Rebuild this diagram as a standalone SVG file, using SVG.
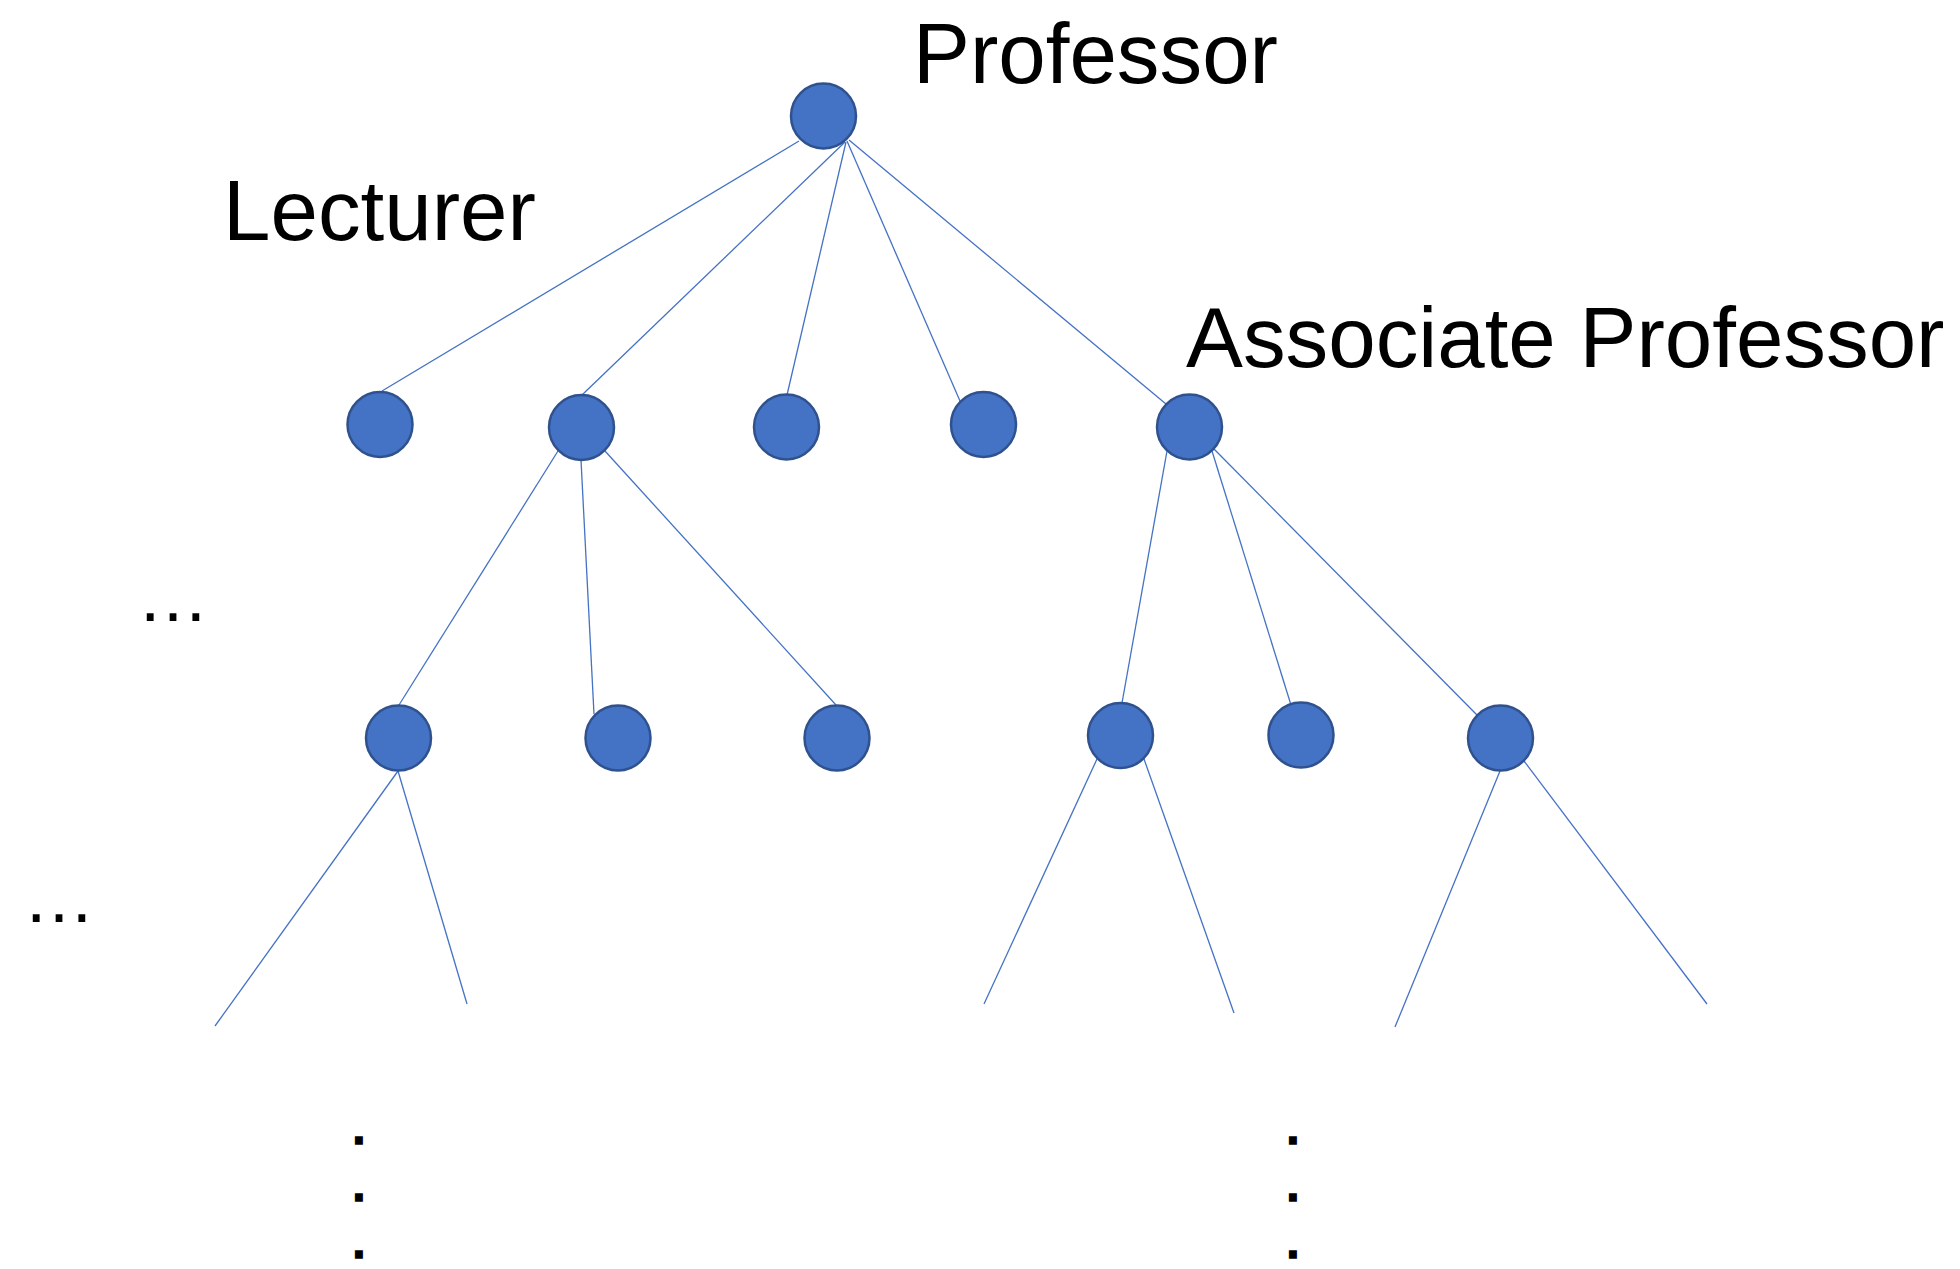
<svg xmlns="http://www.w3.org/2000/svg" width="1960" height="1269" viewBox="0 0 1960 1269">
<style>
.node{fill:#4472C4;stroke:#2F528F;stroke-width:2.5}
.edge{stroke:#4472C4;stroke-width:1.3;fill:none}
.lbl{font-family:"Liberation Sans",Arial,sans-serif;font-size:85.3px;fill:#000}
.dots{font-family:"Liberation Sans",Arial,sans-serif;fill:#000}
.vdot{font-family:"Liberation Sans",Arial,sans-serif;font-size:46px;fill:#000;stroke:#000;stroke-width:3.6;stroke-linejoin:miter}
</style>
<rect width="1960" height="1269" fill="#fff"/>
<g id="connectors">
<line class="edge" x1="799" y1="141" x2="382" y2="391"/>
<line class="edge" x1="845" y1="142" x2="582" y2="395"/>
<line class="edge" x1="846" y1="142" x2="787" y2="395"/>
<line class="edge" x1="847" y1="141" x2="960" y2="401"/>
<line class="edge" x1="849" y1="140" x2="1166" y2="404"/>
<line class="edge" x1="558" y1="451" x2="399" y2="705"/>
<line class="edge" x1="581" y1="460" x2="594" y2="714"/>
<line class="edge" x1="605" y1="451" x2="836" y2="705"/>
<line class="edge" x1="1167" y1="451" x2="1122" y2="703"/>
<line class="edge" x1="1212" y1="451" x2="1291" y2="705"/>
<line class="edge" x1="1214" y1="449" x2="1477" y2="715"/>
<line class="edge" x1="398" y1="771" x2="215" y2="1026"/>
<line class="edge" x1="398" y1="771" x2="467" y2="1004"/>
<line class="edge" x1="1097" y1="759" x2="984" y2="1004"/>
<line class="edge" x1="1144" y1="759" x2="1234" y2="1013"/>
<line class="edge" x1="1500" y1="771" x2="1395" y2="1027"/>
<line class="edge" x1="1524" y1="761" x2="1707" y2="1004"/>
</g>
<g id="root"><circle class="node" cx="823.5" cy="116" r="32.5"/></g>
<g id="n1"><circle class="node" cx="380" cy="424.5" r="32.5"/></g>
<g id="n2"><circle class="node" cx="581.5" cy="427.5" r="32.5"/></g>
<g id="n3"><circle class="node" cx="786.5" cy="427" r="32.5"/></g>
<g id="n4"><circle class="node" cx="983.5" cy="424.5" r="32.5"/></g>
<g id="n5"><circle class="node" cx="1189.5" cy="427" r="32.5"/></g>
<g id="n2a"><circle class="node" cx="398.5" cy="738" r="32.5"/></g>
<g id="n2b"><circle class="node" cx="618" cy="738" r="32.5"/></g>
<g id="n2c"><circle class="node" cx="837" cy="738" r="32.5"/></g>
<g id="n5a"><circle class="node" cx="1120.5" cy="735.5" r="32.5"/></g>
<g id="n5b"><circle class="node" cx="1301" cy="735" r="32.5"/></g>
<g id="n5c"><circle class="node" cx="1500.5" cy="738" r="32.5"/></g>
<g id="labels">
<text class="lbl" x="913" y="83">Professor</text>
<text class="lbl" x="223" y="240">Lecturer</text>
<text class="lbl" x="1186" y="367">Associate Professor</text>
<text class="dots" x="137" y="621" font-size="72">…</text>
<text class="dots" x="23" y="922" font-size="72">…</text>
<text class="vdot" x="352.5" y="1143.4">.</text>
<text class="vdot" x="352.5" y="1200.4">.</text>
<text class="vdot" x="352.5" y="1257.4">.</text>
<text class="vdot" x="1286.5" y="1143.4">.</text>
<text class="vdot" x="1286.5" y="1200.4">.</text>
<text class="vdot" x="1286.5" y="1257.4">.</text>
</g>
</svg>
